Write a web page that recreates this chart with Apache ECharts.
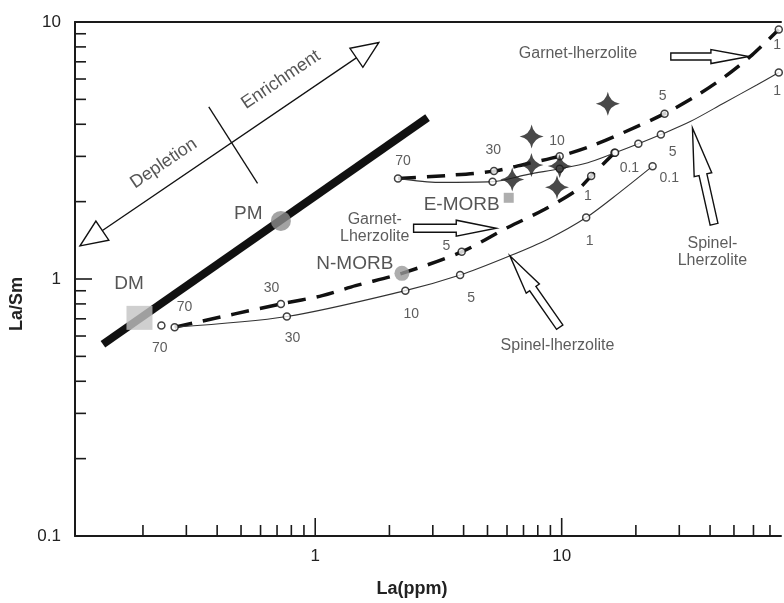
<!DOCTYPE html>
<html><head><meta charset="utf-8">
<script src="https://cdn.jsdelivr.net/npm/echarts@6/dist/echarts.min.js"></script>
<style>html,body{margin:0;padding:0;background:#fff}#c{width:784px;height:603px}</style>
</head><body><div id="c"></div>
<script>
// ---------- axes ----------
const xMin = 0.106, xMax = 77.6, yMin = 0.1, yMax = 10;
const xMinorTicks = [0.2,0.3,0.4,0.5,0.6,0.7,0.8,0.9,2,3,4,5,6,7,8,9,20,30,40,50,60,70];
const xMajorTicks = [1,10];
const yMinorTicks = [0.2,0.3,0.4,0.5,0.6,0.7,0.8,0.9,2,3,4,5,6,7,8,9];
const yMajorTicks = [1];

// ---------- reference reservoirs ----------
const pmLine = [[0.1376,0.5574],[2.856,4.246]];
const dmPoint = [0.1936,0.7060];
const pmPoint = [0.7256,1.683];
const nmorbPoint = [2.248,1.052];
const emorbPoint = [6.097,2.070];
const samples = [[15.39,4.811],[7.551,3.583],[7.537,2.778],[9.815,2.754],[9.572,2.273],[6.299,2.441]];

// ---------- melting curves ----------
const garnetDM = [[0.2689,0.6497],[0.7256,0.800],[1.068,0.8616],[1.458,0.942],[2.248,1.052],[3.929,1.276],[6.068,1.590],[8.54,1.867],[11.64,2.233],[13.17,2.514],[16.38,3.098]];
const garnetDMMarks = [[0.2689,0.6497],[0.7256,0.800],[3.929,1.276],[13.17,2.514],[16.38,3.098]];
const spinelDM = [[0.2689,0.6497],[0.7671,0.7143],[2.321,0.9009],[3.871,1.036],[6.166,1.231],[8.802,1.429],[12.57,1.734],[17.20,2.174],[23.38,2.749]];
const spinelDMMarks = [[0.2376,0.6592],[0.7671,0.7143],[2.321,0.9009],[3.871,1.036],[12.57,1.734],[23.38,2.749]];
const garnetPM = [[2.167,2.463],[3.472,2.530],[5.312,2.629],[7.309,2.816],[9.815,3.005],[13.13,3.286],[17.69,3.703],[26.15,4.400],[34.87,5.134],[45.68,6.105],[59.29,7.449],[76.0,9.353]];
const garnetPMMarks = [[2.167,2.463],[5.312,2.629],[9.815,3.005],[26.15,4.400],[76.0,9.353]];
const spinelPM = [[2.167,2.463],[3.164,2.377],[5.243,2.392],[7.309,2.553],[9.815,2.686],[12.77,2.834],[16.47,3.098],[20.47,3.357],[25.26,3.648],[33.39,4.108],[45.56,4.841],[62.10,5.700],[76.0,6.361]];
const spinelPMMarks = [[5.243,2.392],[9.815,2.686],[16.47,3.098],[20.47,3.357],[25.26,3.648],[76.0,6.361]];

// melt-fraction labels (text, La, La/Sm)
const meltLabels = [
  ['70',0.2951,0.7768],['70',0.2338,0.5386],['30',0.6646,0.9229],['30',0.8083,0.5891],
  ['10',2.454,0.7318],['5',4.289,0.8416],['5',3.408,1.339],['1',12.77,2.103],['1',12.98,1.407],
  ['0.1',18.82,2.710],['0.1',27.32,2.479],['70',2.270,2.874],['30',5.277,3.171],['10',9.572,3.436],
  ['5',25.66,5.167],['5',28.17,3.114],['1',74.8,8.146],['1',74.8,5.369]
];

// annotation texts (text, La, La/Sm)
const bigLabels = [['PM',0.5353,1.797],['DM',0.1757,0.9564],['N-MORB',1.448,1.150],['E-MORB',3.929,1.953]];
const rockLabels = [['Garnet-lherzolite',11.64,7.563],['Garnet-\nLherzolite',1.744,1.576],['Spinel-lherzolite',9.616,0.5513],['Spinel-\nLherzolite',40.87,1.273]];
const trendLabels = [['Depletion',0.2427,2.816],['Enrichment',0.7256,5.959]];

// arrows (from La, from La/Sm, to La, to La/Sm)
const trendArrow = [[0.1111,1.346,1.810,8.315]];
const trendCross = [[0.3699,4.671],[0.5835,2.356]];
const blockArrows = [[27.72,7.337,57.50,7.337],[2.507,1.576,5.426,1.576],[9.815,0.6497,6.166,1.231],[41.52,1.634,33.93,3.873]];
const blockArrowStyle = [{head:38,shaft:3.5,wing:7},{head:40,shaft:4,wing:8},{head:40,shaft:3.8,wing:8},{head:48,shaft:4,wing:9}];

// ---------- chart ----------
const FONT = 'Liberation Sans, Arial, sans-serif';
const chart = echarts.init(document.getElementById('c'));

function tickItem(isX, len) {
  return function (params, api) {
    const p = api.coord([api.value(0), api.value(1)]);
    const shape = isX ? {x1:p[0],y1:p[1],x2:p[0],y2:p[1]-len} : {x1:p[0],y1:p[1],x2:p[0]+len,y2:p[1]};
    return {type:'line', shape, style:{stroke:'#1a1a1a', lineWidth:1.6}};
  };
}
function powLabel(v){
  const l = Math.log10(v);
  if (Math.abs(l - Math.round(l)) > 1e-6) return '';
  return Math.round(l) >= 0 ? String(Math.round(v)) : String(+v.toPrecision(1));
}
function labelSeries(list, style, extra) {
  return Object.assign({
    type:'scatter', silent:true, z:8, symbol:'circle', symbolSize:1,
    itemStyle:{color:'rgba(0,0,0,0)'},
    label:Object.assign({show:true, position:'inside', formatter:'{b}', fontFamily:FONT, color:'#333'}, style),
    data:list.map(d => ({name:d[0], value:[d[1], d[2]]}))
  }, extra||{});
}
function openCircles(list){
  return {type:'scatter', silent:true, z:5, symbol:'circle', symbolSize:7,
    itemStyle:{color:'#fff', borderColor:'#111', borderWidth:1.5}, data:list};
}
const axisLineStyle = {show:true, onZero:false, lineStyle:{color:'#1a1a1a', width:2}};

const option = {
  animation:false,
  backgroundColor:'#fff',
  grid:{left:75, right:0, top:22, bottom:65, show:false},
  xAxis:[{type:'log', logBase:10, min:xMin, max:xMax,
    name:'La(ppm)', nameLocation:'middle', nameGap:44,
    nameTextStyle:{fontFamily:FONT, fontWeight:'bold', fontSize:18, color:'#222', padding:[0,32,0,0]},
    axisLine:axisLineStyle, axisTick:{show:false}, splitLine:{show:false},
    axisLabel:{formatter:powLabel, fontFamily:FONT, fontSize:17, color:'#222', margin:12}},
   {type:'log', logBase:10, min:xMin, max:xMax, position:'top',
    axisLine:axisLineStyle, axisTick:{show:false}, splitLine:{show:false}, axisLabel:{show:false}}],
  yAxis:{type:'log', logBase:10, min:yMin, max:yMax,
    name:'La/Sm', nameLocation:'middle', nameGap:47, nameRotate:90,
    nameTextStyle:{fontFamily:FONT, fontWeight:'bold', fontSize:18, color:'#222', padding:[0,50,0,0]},
    axisLine:axisLineStyle, axisTick:{show:false}, splitLine:{show:false},
    axisLabel:{formatter:powLabel, fontFamily:FONT, fontSize:17, color:'#222', margin:14}},
  series:[
    // axis ticks
    {type:'custom', silent:true, z:3, renderItem:tickItem(true,11), encode:{x:0,y:1}, data:xMinorTicks.map(v=>[v,yMin])},
    {type:'custom', silent:true, z:3, renderItem:tickItem(true,18), encode:{x:0,y:1}, data:xMajorTicks.map(v=>[v,yMin])},
    {type:'custom', silent:true, z:3, renderItem:tickItem(false,11), encode:{x:0,y:1}, data:yMinorTicks.map(v=>[xMin,v])},
    {type:'custom', silent:true, z:3, renderItem:tickItem(false,17), encode:{x:0,y:1}, data:yMajorTicks.map(v=>[xMin,v])},
    // PM - DM mantle array
    {type:'line', silent:true, z:2, showSymbol:false, data:pmLine, lineStyle:{color:'#111', width:8, cap:'butt'}},
    // melting curves
    {type:'line', name:'Garnet DM', silent:true, z:3, showSymbol:false, smooth:0.3, data:garnetDM, lineStyle:{color:'#111', width:3.5, type:[18,11], cap:'butt'}},
    {type:'line', name:'Spinel DM', silent:true, z:3, showSymbol:false, smooth:0.3, data:spinelDM, lineStyle:{color:'#333', width:1.1}},
    {type:'line', name:'Garnet PM', silent:true, z:3, showSymbol:false, smooth:0.3, data:garnetPM, lineStyle:{color:'#111', width:3.5, type:[18,11], cap:'butt'}},
    {type:'line', name:'Spinel PM', silent:true, z:3, showSymbol:false, smooth:0.3, data:spinelPM, lineStyle:{color:'#333', width:1.1}},
    openCircles(garnetDMMarks), openCircles(spinelDMMarks), openCircles(garnetPMMarks), openCircles(spinelPMMarks),
    // reservoirs
    {type:'scatter', silent:true, z:6, symbol:'rect', symbolSize:[26,24], itemStyle:{color:'#c3c3c3'}, data:[dmPoint]},
    {type:'scatter', silent:true, z:6, symbol:'circle', symbolSize:20, itemStyle:{color:'#8c8c8c'}, data:[pmPoint]},
    {type:'scatter', silent:true, z:6, symbol:'circle', symbolSize:15, itemStyle:{color:'#999'}, data:[nmorbPoint]},
    {type:'scatter', silent:true, z:6, symbol:'rect', symbolSize:10, itemStyle:{color:'#9a9a9a'}, data:[emorbPoint]},
    // samples (stars)
    {type:'scatter', silent:true, z:6, symbol:'path://M0,-12 Q1.8,-1.8 12,0 Q1.8,1.8 0,12 Q-1.8,1.8 -12,0 Q-1.8,-1.8 0,-12 Z', symbolSize:24, itemStyle:{color:'#1c1c1c'}, data:samples},
    // trend double arrow
    {type:'custom', silent:true, z:7, encode:{x:[0,2], y:[1,3]}, data:trendArrow,
      renderItem:function(params, api){
        const a = api.coord([api.value(0), api.value(1)]);
        const b = api.coord([api.value(2), api.value(3)]);
        const dx=b[0]-a[0], dy=b[1]-a[1], L=Math.hypot(dx,dy), ux=dx/L, uy=dy/L, nx=-uy, ny=ux;
        const H=27, W=11.5;
        function head(t, sx, sy){
          const bx=t[0]-sx*H, by=t[1]-sy*H;
          return {type:'polygon', shape:{points:[[t[0],t[1]],[bx+nx*W,by+ny*W],[bx-nx*W,by-ny*W]]}, style:{fill:'#fff', stroke:'#111', lineWidth:1.4}};
        }
        return {type:'group', children:[
          {type:'line', shape:{x1:a[0],y1:a[1],x2:b[0],y2:b[1]}, style:{stroke:'#111', lineWidth:1.3}},
          head(a,-ux,-uy), head(b,ux,uy)
        ]};
      }},
    {type:'line', silent:true, z:7, showSymbol:false, data:trendCross, lineStyle:{color:'#111', width:1.3}},
    // hollow block arrows
    {type:'custom', silent:true, z:7, encode:{x:[0,2], y:[1,3]}, data:blockArrows,
      renderItem:function(params, api){
        const st = blockArrowStyle[params.dataIndex];
        const a = api.coord([api.value(0), api.value(1)]);
        const b = api.coord([api.value(2), api.value(3)]);
        const dx=b[0]-a[0], dy=b[1]-a[1], L=Math.hypot(dx,dy), ux=dx/L, uy=dy/L, nx=-uy, ny=ux;
        const bx=b[0]-ux*st.head, by=b[1]-uy*st.head;
        const pts=[
          [a[0]+nx*st.shaft, a[1]+ny*st.shaft],[bx+nx*st.shaft, by+ny*st.shaft],[bx+nx*st.wing, by+ny*st.wing],
          [b[0],b[1]],
          [bx-nx*st.wing, by-ny*st.wing],[bx-nx*st.shaft, by-ny*st.shaft],[a[0]-nx*st.shaft, a[1]-ny*st.shaft]
        ];
        return {type:'polygon', shape:{points:pts}, style:{fill:'#fff', stroke:'#111', lineWidth:1.4, lineJoin:'miter'}};
      }},
    // labels
    labelSeries(meltLabels, {fontSize:14}),
    labelSeries(bigLabels, {fontSize:19, color:'#2b2b2b'}),
    labelSeries(rockLabels, {fontSize:16, lineHeight:17, align:'center'}),
    labelSeries(trendLabels, {fontSize:18, rotate:34, color:'#2b2b2b'})
  ]
};
chart.setOption(option);
</script>
</body></html>
